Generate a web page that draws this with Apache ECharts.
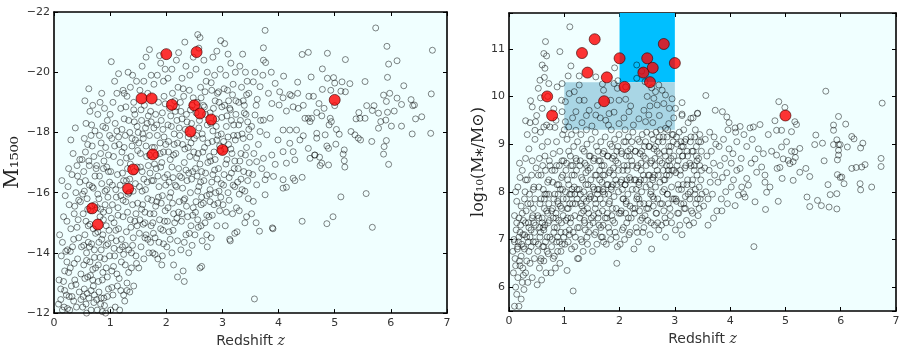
<!DOCTYPE html>
<html>
<head>
<meta charset="utf-8">
<script src="https://cdn.jsdelivr.net/npm/echarts@6/dist/echarts.min.js"></script>
<style>
html, body { margin: 0; padding: 0; background: #fff; }
#chart { width: 911px; height: 353px; }
</style>
</head>
<body>
<div id="chart"></div>
<script>
// ---- left panel: M1500 vs redshift ----
const leftBlobLow = [
[0.08,-12.3],[0.12,-12.8],[0.15,-12.1],[0.19,-13.4],[0.13,-13.9],[0.22,-12.6],[0.1,-14.6],[0.17,-15.2],[0.24,-14.1],[0.2,-15.9],[0.14,-16.4],[0.26,-16.8],[0.09,-13.1],[0.18,-12.2],[0.23,-13.7],
[0.28,-12.1],[0.31,-12.9],[0.35,-12.4],[0.29,-13.5],[0.33,-14.2],[0.37,-13.1],[0.4,-12.2],[0.42,-13.8],[0.3,-14.8],[0.36,-15.3],[0.44,-14.5],[0.39,-16.0],[0.27,-15.6],[0.47,-15.7],[0.32,-16.6],[0.41,-16.9],[0.45,-12.7],[0.48,-13.3],[0.34,-17.3],[0.3,-17.75],[0.46,-17.1],[0.38,-18.15],[0.25,-16.2],[0.43,-15.1],[0.49,-14.2],
[0.51,-12.2],[0.54,-12.8],[0.57,-12.3],[0.6,-13.2],[0.53,-13.6],[0.62,-12.5],[0.66,-12.1],[0.58,-14.0],[0.64,-13.7],[0.69,-13.1],[0.55,-14.6],[0.61,-14.9],[0.67,-14.3],[0.72,-12.6],[0.52,-15.3],[0.59,-15.8],[0.65,-15.4],[0.7,-14.8],[0.74,-13.5],[0.56,-16.4],[0.63,-16.9],[0.68,-16.2],[0.73,-15.6],[0.5,-17.1],[0.6,-17.6],[0.66,-17.9],[0.71,-17.2],[0.57,-18.3],[0.64,-18.7],[0.62,-19.45],[0.55,-19.05],[0.69,-18.9],[0.53,-16.7],[0.75,-16.8],[0.58,-12.0],[0.7,-12.9],[0.63,-14.2],[0.72,-14.1],[0.54,-17.8],
[0.77,-12.1],[0.8,-12.7],[0.83,-12.3],[0.86,-13.1],[0.79,-13.6],[0.89,-12.5],[0.92,-12.0],[0.84,-14.1],[0.9,-13.8],[0.95,-13.2],[0.78,-14.7],[0.82,-15.2],[0.87,-14.6],[0.93,-14.9],[0.97,-12.8],[0.8,-15.8],[0.85,-16.3],[0.91,-15.6],[0.96,-14.3],[0.99,-13.9],[0.76,-16.9],[0.83,-17.3],[0.88,-16.8],[0.94,-16.1],[0.98,-15.4],[0.81,-17.9],[0.87,-18.2],[0.92,-17.5],[0.97,-16.7],[0.78,-18.6],[0.9,-18.8],[0.95,-18.4],[0.85,-19.3],[0.99,-17.9],[0.82,-19.0],[0.77,-15.5],[0.88,-15.1],[0.93,-13.5],[0.84,-12.5]
];
const leftBlobMid = [
[1.01,-12.1],[1.05,-12.6],[1.09,-12.2],[1.13,-12.9],[1.17,-12.1],[1.03,-13.4],[1.08,-13.9],[1.12,-13.3],[1.2,-13.7],[1.24,-12.6],[1.02,-14.5],[1.07,-15.0],[1.11,-14.4],[1.15,-14.8],[1.22,-14.2],[1.04,-15.6],[1.1,-16.1],[1.14,-15.5],[1.19,-15.9],[1.23,-15.2],[1.01,-16.7],[1.06,-17.2],[1.13,-16.6],[1.18,-17.0],[1.24,-16.4],[1.03,-17.8],[1.09,-18.3],[1.16,-17.6],[1.21,-18.1],[1.05,-19.0],[1.12,-19.3],[1.19,-18.8],[1.08,-19.7],[1.02,-20.35],[1.15,-19.95],[1.23,-19.4],[1.0,-18.6],[1.17,-14.1],[1.25,-17.5],
[1.26,-12.4],[1.3,-13.0],[1.35,-12.7],[1.27,-13.6],[1.33,-14.1],[1.38,-13.5],[1.42,-12.9],[1.46,-13.9],[1.29,-14.7],[1.36,-15.1],[1.41,-14.5],[1.48,-14.9],[1.28,-15.7],[1.34,-16.0],[1.4,-15.6],[1.45,-16.3],[1.31,-16.8],[1.37,-17.2],[1.43,-16.7],[1.49,-17.4],[1.27,-17.9],[1.33,-18.4],[1.39,-17.8],[1.44,-18.6],[1.3,-19.2],[1.36,-19.5],[1.42,-19.0],[1.47,-19.7],[1.32,-20.0],[1.4,-19.9],[1.25,-19.3],[1.38,-14.0],[1.46,-15.3],[1.35,-18.0],[1.48,-18.2],[1.29,-16.4],
[1.51,-13.5],[1.55,-14.2],[1.6,-13.8],[1.64,-14.6],[1.69,-14.0],[1.73,-14.9],[1.53,-15.1],[1.58,-15.6],[1.62,-15.0],[1.67,-15.8],[1.71,-15.3],[1.52,-16.2],[1.57,-16.7],[1.63,-16.1],[1.68,-16.9],[1.74,-16.4],[1.54,-17.3],[1.59,-17.8],[1.65,-17.2],[1.7,-17.9],[1.56,-18.4],[1.61,-18.9],[1.66,-18.3],[1.72,-18.7],[1.53,-19.4],[1.6,-19.7],[1.67,-19.3],[1.73,-19.9],[1.57,-20.2],[1.64,-20.5],[1.7,-20.75],[1.75,-17.5],[1.5,-18.0],[1.62,-14.5],
[1.76,-14.0],[1.8,-14.5],[1.85,-13.8],[1.9,-14.8],[1.95,-14.3],[1.78,-15.3],[1.83,-15.7],[1.88,-15.1],[1.93,-15.9],[1.98,-15.4],[1.77,-16.4],[1.82,-16.8],[1.87,-16.2],[1.92,-17.0],[1.97,-16.5],[1.79,-17.5],[1.84,-17.9],[1.89,-17.3],[1.94,-18.1],[1.99,-17.6],[1.81,-18.6],[1.86,-19.0],[1.91,-18.4],[1.96,-19.2],[1.78,-19.6],[1.84,-19.9],[1.9,-20.3],[1.95,-19.7],[1.88,-20.55],[1.98,-20.1],[1.76,-15.0],[1.93,-13.9],[1.92,-13.6]
];
const leftBlobHigh = [
[2.01,-14.2],[2.05,-14.7],[2.1,-14.0],[2.15,-15.0],[2.2,-14.4],[2.03,-15.5],[2.08,-16.0],[2.13,-15.3],[2.18,-16.2],[2.23,-15.7],[2.02,-16.6],[2.07,-17.1],[2.12,-16.5],[2.17,-17.3],[2.22,-16.8],[2.04,-17.7],[2.09,-18.2],[2.14,-17.6],[2.19,-18.4],[2.24,-17.9],[2.06,-18.8],[2.11,-19.3],[2.16,-18.7],[2.21,-19.5],[2.03,-19.8],[2.1,-20.1],[2.18,-20.4],[2.22,-20.65],[2.2,-13.2],[2.13,-13.6],[2.25,-19.0],
[2.26,-14.1],[2.3,-13.4],[2.32,-13.05],[2.35,-14.6],[2.4,-14.0],[2.44,-14.9],[2.28,-15.3],[2.33,-15.8],[2.38,-15.2],[2.43,-16.0],[2.48,-15.5],[2.27,-16.5],[2.32,-17.0],[2.37,-16.4],[2.42,-17.2],[2.47,-16.7],[2.29,-17.6],[2.34,-18.1],[2.39,-17.5],[2.45,-18.3],[2.26,-18.7],[2.31,-19.2],[2.36,-18.6],[2.41,-19.4],[2.46,-18.9],[2.28,-19.8],[2.35,-20.2],[2.42,-19.9],[2.33,-21.0],[2.48,-20.5],[2.5,-17.8],
[2.51,-14.6],[2.56,-15.1],[2.6,-13.5],[2.64,-14.4],[2.69,-15.0],[2.73,-14.2],[2.53,-15.7],[2.58,-16.2],[2.62,-15.6],[2.67,-16.4],[2.72,-15.9],[2.52,-16.8],[2.57,-17.3],[2.63,-16.7],[2.68,-17.5],[2.74,-17.0],[2.54,-17.9],[2.59,-18.4],[2.65,-17.8],[2.7,-18.6],[2.55,-19.0],[2.61,-19.5],[2.66,-18.9],[2.71,-19.7],[2.53,-20.1],[2.58,-20.8],[2.56,-21.25],[2.6,-21.15],[2.67,-20.4],[2.73,-20.0],[2.62,-14.9],
[2.76,-15.2],[2.8,-14.5],[2.85,-15.6],[2.9,-14.9],[2.95,-15.4],[2.78,-16.1],[2.83,-16.6],[2.88,-16.0],[2.93,-16.8],[2.98,-16.3],[2.77,-17.2],[2.82,-17.7],[2.87,-17.1],[2.92,-17.9],[2.97,-17.4],[2.79,-18.3],[2.84,-18.8],[2.89,-18.2],[2.94,-19.0],[2.99,-18.5],[2.81,-19.4],[2.86,-19.9],[2.91,-19.3],[2.96,-20.1],[2.83,-20.5],[2.9,-20.7],[2.97,-21.05],[2.78,-15.7],[2.72,-14.6],
[3.01,-15.6],[3.05,-14.9],[3.1,-16.0],[3.14,-14.4],[3.18,-15.3],[3.22,-16.2],[3.03,-16.6],[3.08,-17.1],[3.12,-16.5],[3.17,-17.3],[3.21,-16.8],[3.02,-17.7],[3.07,-18.2],[3.11,-17.6],[3.16,-18.4],[3.2,-17.9],[3.24,-18.6],[3.04,-18.9],[3.09,-19.4],[3.13,-18.8],[3.19,-19.6],[3.06,-19.9],[3.15,-20.3],[3.23,-20.0],[3.1,-20.6],[3.04,-20.95],[3.25,-15.5],[3.22,-14.65],
[3.26,-14.7],[3.3,-15.4],[3.35,-16.1],[3.4,-15.0],[3.45,-16.4],[3.28,-16.8],[3.33,-17.3],[3.38,-16.7],[3.43,-17.5],[3.48,-17.0],[3.27,-17.9],[3.32,-18.4],[3.37,-17.8],[3.42,-18.6],[3.47,-18.1],[3.29,-19.0],[3.34,-19.5],[3.39,-18.9],[3.44,-19.7],[3.31,-20.2],[3.41,-20.0],[3.36,-20.6],[3.47,-19.3],[3.46,-15.8],[3.43,-15.2]
];
const leftFill = [
[0.12,-12.45],[0.17,-13.05],[0.21,-14.05],[0.15,-14.35],[0.26,-13.35],[0.23,-15.05],[0.19,-12.75],[0.27,-12.55],[0.29,-14.05],[0.24,-12.15],
[0.32,-12.55],[0.36,-13.65],[0.41,-14.85],[0.46,-16.35],[0.39,-12.95],[0.44,-15.75],[0.35,-14.45],[0.48,-12.45],[0.42,-16.55],[0.37,-15.55],
[0.52,-12.55],[0.55,-13.15],[0.58,-13.75],[0.61,-14.35],[0.64,-14.95],[0.67,-15.55],[0.7,-16.15],[0.73,-16.55],[0.53,-14.25],[0.57,-15.05],[0.6,-15.45],[0.63,-16.25],[0.66,-12.75],[0.69,-13.45],[0.72,-13.85],[0.74,-14.65],[0.51,-15.95],[0.56,-17.35],[0.62,-17.05],[0.68,-17.55],[0.71,-12.35],[0.65,-13.25],[0.59,-12.65],[0.54,-16.05],[0.67,-18.25],[0.73,-18.05],
[0.76,-12.45],[0.79,-13.05],[0.82,-13.85],[0.85,-14.45],[0.88,-15.35],[0.91,-16.05],[0.94,-16.85],[0.97,-17.25],[0.78,-15.95],[0.81,-16.55],[0.84,-17.65],[0.87,-13.35],[0.9,-12.25],[0.93,-14.25],[0.96,-15.85],[0.99,-16.35],[0.8,-14.35],[0.83,-15.45],[0.86,-12.05],[0.89,-17.05],[0.92,-18.15],[0.95,-12.55],[0.98,-14.75],
[1.03,-12.85],[1.06,-13.55],[1.1,-14.75],[1.14,-15.25],[1.18,-16.25],[1.21,-17.35],[1.25,-18.45],[1.04,-16.25],[1.08,-17.55],[1.12,-18.05],[1.16,-13.15],[1.2,-14.45],[1.23,-15.75],[1.07,-14.15],[1.11,-15.85],[1.15,-17.85],[1.19,-12.75],[1.22,-16.65],[1.02,-15.15],[1.24,-13.95],
[1.27,-14.25],[1.31,-15.35],[1.35,-16.45],[1.39,-17.55],[1.43,-18.35],[1.47,-13.65],[1.29,-17.15],[1.33,-13.35],[1.37,-14.85],[1.41,-16.05],[1.45,-17.75],[1.49,-15.65],[1.28,-18.85],[1.32,-15.95],[1.36,-16.95],[1.4,-14.25],[1.44,-15.05],[1.48,-16.85],[1.3,-12.75],[1.42,-18.75],
[1.52,-14.65],[1.56,-15.45],[1.6,-16.45],[1.64,-17.55],[1.68,-18.55],[1.72,-14.35],[1.54,-16.85],[1.58,-17.95],[1.62,-15.35],[1.66,-16.35],[1.7,-17.25],[1.74,-15.75],[1.51,-17.65],[1.55,-18.75],[1.59,-14.95],[1.63,-18.15],[1.67,-14.45],[1.71,-16.65],[1.73,-18.35],[1.57,-16.05],
[1.77,-14.65],[1.81,-15.55],[1.85,-16.55],[1.89,-17.65],[1.93,-18.65],[1.97,-15.05],[1.79,-16.95],[1.83,-18.25],[1.87,-14.35],[1.91,-15.65],[1.95,-17.35],[1.99,-16.25],[1.78,-18.15],[1.82,-17.25],[1.86,-15.85],[1.9,-16.85],[1.94,-14.75],[1.98,-18.95],[1.8,-13.95],[1.96,-17.85],
[2.02,-15.05],[2.06,-15.85],[2.1,-16.85],[2.14,-17.95],[2.18,-18.85],[2.22,-15.35],[2.04,-17.35],[2.08,-18.55],[2.12,-14.75],[2.16,-16.25],[2.2,-17.65],[2.24,-16.55],[2.03,-18.25],[2.07,-14.45],[2.11,-15.65],[2.15,-19.05],[2.19,-15.15],[2.23,-18.15],[2.05,-16.35],[2.13,-17.25],
[2.27,-15.05],[2.31,-15.75],[2.35,-16.75],[2.39,-17.85],[2.43,-18.75],[2.47,-15.25],[2.29,-16.15],[2.33,-17.45],[2.37,-18.35],[2.41,-14.65],[2.45,-16.45],[2.49,-17.35],[2.28,-18.45],[2.32,-14.35],[2.36,-15.55],[2.4,-16.65],[2.44,-17.65],[2.48,-19.15],[2.3,-19.45],[2.46,-14.25],
[2.52,-15.35],[2.56,-16.05],[2.6,-16.95],[2.64,-17.95],[2.68,-18.85],[2.72,-15.25],[2.54,-17.15],[2.58,-18.15],[2.62,-19.15],[2.66,-15.65],[2.7,-16.65],[2.74,-17.65],[2.53,-18.65],[2.57,-14.85],[2.61,-16.35],[2.65,-17.35],[2.69,-19.35],[2.73,-18.25],[2.55,-16.55],[2.63,-15.85],
[2.77,-15.95],[2.81,-16.35],[2.85,-17.35],[2.89,-18.45],[2.93,-19.35],[2.97,-15.85],[2.79,-17.05],[2.83,-18.05],[2.87,-19.05],[2.91,-16.45],[2.95,-17.55],[2.99,-18.85],[2.78,-18.65],[2.82,-15.25],[2.86,-16.75],[2.9,-17.75],[2.94,-16.05],[2.98,-17.95],[2.8,-19.65],[2.92,-15.65],
[3.02,-16.25],[3.06,-16.95],[3.1,-17.85],[3.14,-18.75],[3.18,-19.25],[3.22,-17.05],[3.04,-17.45],[3.08,-18.55],[3.12,-15.75],[3.16,-16.65],[3.2,-18.25],[3.24,-19.05],[3.03,-19.45],[3.07,-15.35],[3.11,-19.05],[3.15,-17.45],[3.19,-16.25],[3.23,-17.75],
[3.27,-16.35],[3.31,-17.05],[3.35,-17.95],[3.39,-18.65],[3.43,-19.25],[3.47,-16.65],[3.29,-18.25],[3.33,-16.45],[3.37,-19.05],[3.41,-17.25],[3.45,-18.35],[3.49,-17.85],[3.3,-15.95],[3.4,-16.05]
];
const leftTail = [
[3.76,-21.39],[5.73,-21.47],[6.74,-20.73],[5.93,-20.86],[3.73,-20.81],[4.42,-20.59],[4.53,-20.66],[4.87,-20.63],[5.19,-20.42],[5.96,-20.27],[6.11,-20.38],[4.78,-20.11],[3.73,-20.4],[3.77,-20.32],[3.87,-20.0],[4.09,-19.87],[4.58,-19.84],[4.87,-19.8],[4.98,-19.82],[4.34,-19.67],[5.94,-19.83],[5.54,-19.69],[5.0,-19.64],[5.13,-19.68],[5.27,-19.62],[6.23,-19.55],[4.78,-19.43],[4.93,-19.4],[5.11,-19.37],[5.19,-19.35],[6.72,-19.28],[5.87,-19.24],[5.98,-19.3],[4.54,-19.2],[4.62,-19.2],[4.34,-19.3],[4.23,-19.22],[4.08,-19.15],[6.11,-19.14],[6.36,-19.09],[5.92,-19.03],[6.19,-18.93],[6.39,-18.89],[6.42,-18.91],[5.57,-18.89],[5.7,-18.89],[4.72,-18.96],[4.81,-18.8],[5.0,-18.89],[4.44,-18.9],[4.35,-18.8],[6.06,-18.71],[5.94,-18.67],[5.67,-18.73],[5.78,-18.64],[5.43,-18.66],[5.38,-18.45],[5.45,-18.47],[5.54,-18.47],[6.44,-18.45],[6.55,-18.52],[4.68,-18.66],[4.77,-18.55],[4.92,-18.47],[4.9,-18.25],[4.94,-18.36],[4.59,-18.47],[4.53,-18.47],[5.91,-18.41],[5.82,-18.36],[6.01,-18.21],[6.19,-18.21],[5.78,-18.14],[5.29,-18.03],[5.36,-17.92],[5.42,-17.81],[5.46,-17.75],[5.03,-18.1],[5.08,-17.94],[6.38,-17.95],[6.71,-17.97],[4.68,-17.97],[4.83,-17.92],[5.66,-17.7],[5.92,-17.73],[5.88,-17.53],[5.87,-17.28],[5.96,-16.94],[5.02,-17.61],[5.17,-17.42],[5.15,-17.28],[5.17,-17.06],[5.18,-16.85],[4.89,-16.92],[4.74,-16.9],[4.77,-16.98],[4.56,-17.14],[4.64,-17.25],[4.73,-17.18],[4.89,-17.47],[4.86,-17.55],[4.42,-16.51],[4.29,-16.4],[4.14,-16.18],[4.08,-16.15],[3.76,-15.93],[5.11,-15.86],[5.56,-15.97],[4.42,-15.05],[4.86,-14.97],[4.97,-15.2],[5.67,-14.85],[3.89,-14.83],[3.66,-14.72],[3.57,-12.47],
[3.55,-19.68],[3.67,-19.52],[3.82,-19.3],[3.94,-19.63],[4.02,-19.35],[4.2,-19.26],[3.88,-18.96],[4.01,-18.91],[4.14,-18.71],[4.26,-18.85],[3.58,-18.58],[3.73,-18.41],[3.85,-18.47],[4.08,-18.08],[4.2,-18.08],[4.32,-18.08],[4.47,-18.47],[4.56,-18.36],[3.67,-18.03],[3.79,-17.92],[3.99,-17.75],[4.2,-17.64],[4.38,-17.75],[4.44,-17.89],[4.53,-17.47],[4.68,-17.81],[4.26,-17.36],[4.08,-17.36],[3.88,-17.25],[3.73,-17.14],[3.61,-17.03],[3.94,-16.94],[4.14,-16.98],[4.29,-17.09],[3.79,-16.59],[3.91,-16.54],[4.08,-16.43],[4.26,-16.48],[3.61,-16.26],[3.76,-16.43],[3.55,-15.71],[4.65,-17.25],
[3.52,-18.2],[3.6,-18.9],[3.64,-17.6],[3.7,-16.8],[3.56,-17.3],[3.62,-19.1],[3.68,-18.4],[3.54,-16.6],[3.58,-20.0],[3.72,-19.9],[3.52,-15.3],[3.6,-15.0],[3.13,-14.45],[3.9,-14.8],[2.63,-13.55]
];
const leftRed = [[2.0,-20.6],[2.54,-20.67],[1.56,-19.13],[1.74,-19.13],[2.1,-18.92],[2.5,-18.9],[2.6,-18.63],[2.8,-18.43],[2.43,-18.03],[3.0,-17.42],[1.76,-17.27],[1.41,-16.77],[1.32,-16.13],[0.68,-15.48],[0.78,-14.94],[5.0,-19.08]];

// ---- right panel: stellar mass vs redshift ----
const rightBlobLow = [
[0.1,5.6],[0.14,5.85],[0.18,5.6],[0.22,5.75],[0.12,6.0],[0.08,6.3],[0.16,6.2],[0.2,6.45],[0.24,6.1],[0.11,6.6],[0.15,6.8],[0.19,6.55],[0.23,6.9],[0.09,7.0],[0.13,7.2],[0.17,6.95],[0.21,7.3],[0.25,7.1],[0.1,7.5],[0.14,7.8],[0.18,7.45],[0.22,7.7],[0.12,8.0],[0.2,8.3],[0.16,8.1],[0.24,8.45],[0.19,8.6],[0.07,6.75],[0.25,6.4],
[0.27,5.95],[0.3,6.3],[0.34,6.1],[0.38,6.5],[0.42,6.2],[0.46,6.6],[0.28,6.8],[0.32,7.05],[0.36,6.75],[0.4,7.2],[0.44,6.95],[0.48,7.3],[0.26,7.4],[0.31,7.6],[0.35,7.35],[0.39,7.75],[0.43,7.5],[0.47,7.85],[0.29,8.0],[0.33,8.25],[0.37,7.95],[0.41,8.35],[0.45,8.1],[0.49,8.5],[0.3,8.7],[0.36,8.9],[0.42,8.65],[0.47,9.1],[0.38,9.45],[0.33,9.2],[0.44,7.65],[0.28,7.1],
[0.51,6.05],[0.55,6.4],[0.59,6.15],[0.63,6.55],[0.67,6.3],[0.71,6.7],[0.53,6.9],[0.57,7.15],[0.61,6.85],[0.65,7.3],[0.69,7.05],[0.73,7.4],[0.52,7.5],[0.56,7.75],[0.6,7.45],[0.64,7.85],[0.68,7.6],[0.72,7.95],[0.54,8.1],[0.58,8.35],[0.62,8.05],[0.66,8.45],[0.7,8.2],[0.74,8.55],[0.55,8.7],[0.6,8.95],[0.65,8.75],[0.7,9.05],[0.57,9.25],[0.68,9.4],[0.63,7.2],[0.58,6.6],[0.72,7.75],
[0.76,6.3],[0.8,6.6],[0.84,6.4],[0.88,6.75],[0.92,6.5],[0.96,6.9],[0.78,7.0],[0.82,7.25],[0.86,6.95],[0.9,7.4],[0.94,7.15],[0.98,7.5],[0.77,7.6],[0.81,7.85],[0.85,7.55],[0.89,7.95],[0.93,7.7],[0.97,8.05],[0.79,8.2],[0.83,8.45],[0.87,8.15],[0.91,8.55],[0.95,8.3],[0.99,8.65],[0.8,8.8],[0.86,9.05],[0.92,8.85],[0.97,9.2],[0.83,9.35],[0.95,7.35],[0.88,7.8]
];
const rightBlobMid = [
[1.01,6.9],[1.05,6.35],[1.09,7.1],[1.13,6.8],[1.16,5.92],[1.2,7.05],[1.24,6.6],[1.03,7.4],[1.07,7.65],[1.11,7.35],[1.15,7.75],[1.19,7.5],[1.23,7.85],[1.02,8.0],[1.06,8.25],[1.1,7.95],[1.14,8.35],[1.18,8.1],[1.22,8.45],[1.04,8.6],[1.08,8.85],[1.12,8.55],[1.17,8.95],[1.21,8.7],[1.05,9.1],[1.13,9.2],[1.24,9.05],[1.0,9.3],[1.09,7.2],[1.19,7.95],
[1.26,6.6],[1.3,7.0],[1.34,6.75],[1.38,7.2],[1.42,6.9],[1.46,7.3],[1.28,7.45],[1.32,7.7],[1.36,7.4],[1.4,7.8],[1.44,7.55],[1.48,7.9],[1.27,8.05],[1.31,8.3],[1.35,8.0],[1.39,8.4],[1.43,8.15],[1.47,8.5],[1.29,8.65],[1.33,8.9],[1.37,8.6],[1.41,9.0],[1.45,8.75],[1.49,9.1],[1.3,9.2],[1.4,9.3],[1.35,7.6],[1.46,7.95],
[1.51,6.75],[1.55,7.1],[1.59,6.9],[1.63,7.3],[1.67,7.05],[1.71,6.95],[1.53,7.5],[1.57,7.75],[1.61,7.45],[1.65,7.85],[1.69,7.6],[1.73,7.95],[1.52,8.1],[1.56,8.35],[1.6,8.05],[1.64,8.45],[1.68,8.2],[1.72,8.55],[1.54,8.7],[1.58,8.95],[1.62,8.65],[1.66,9.05],[1.7,8.8],[1.74,9.15],[1.56,9.25],[1.7,7.3],[1.7,8.0],[1.7,8.35],[1.7,7.75],
[1.76,6.9],[1.8,7.25],[1.84,7.0],[1.88,7.4],[1.92,7.15],[1.95,6.5],[1.78,7.55],[1.82,7.8],[1.86,7.5],[1.9,7.9],[1.94,7.65],[1.98,8.0],[1.77,8.15],[1.81,8.4],[1.85,8.1],[1.89,8.5],[1.93,8.25],[1.97,8.6],[1.79,8.75],[1.83,9.0],[1.87,8.7],[1.91,9.1],[1.95,8.85],[1.99,9.2],[1.85,9.3],[1.96,6.85]
];
const rightBlobHigh = [
[2.01,6.9],[2.05,7.2],[2.09,7.0],[2.13,7.35],[2.17,7.1],[2.21,7.45],[2.03,7.6],[2.07,7.85],[2.11,7.55],[2.15,7.95],[2.19,7.7],[2.23,8.05],[2.02,8.2],[2.06,8.45],[2.1,8.15],[2.14,8.55],[2.18,8.3],[2.22,8.65],[2.04,8.8],[2.08,9.05],[2.12,8.75],[2.16,9.15],[2.2,8.9],[2.24,9.25],[2.1,9.3],[2.12,7.8],
[2.26,6.8],[2.3,7.25],[2.34,6.95],[2.38,7.4],[2.42,7.15],[2.46,7.5],[2.28,7.65],[2.32,7.9],[2.36,7.6],[2.4,8.0],[2.44,7.75],[2.48,8.1],[2.27,8.25],[2.31,8.5],[2.35,8.2],[2.39,8.6],[2.43,8.35],[2.47,8.7],[2.29,8.85],[2.33,9.1],[2.37,8.8],[2.41,9.2],[2.45,8.95],[2.49,9.25],[2.35,7.85],
[2.51,7.4],[2.55,7.1],[2.58,6.8],[2.63,7.3],[2.67,7.55],[2.71,7.2],[2.53,7.75],[2.57,8.0],[2.61,7.7],[2.65,8.1],[2.69,7.85],[2.73,8.2],[2.52,8.35],[2.56,8.6],[2.6,8.3],[2.64,8.7],[2.68,8.45],[2.72,8.8],[2.54,8.95],[2.58,9.2],[2.62,8.9],[2.66,9.25],[2.7,9.05],[2.74,9.3],[2.6,7.9],
[2.76,7.3],[2.8,7.6],[2.84,7.35],[2.88,7.75],[2.92,7.5],[2.96,7.85],[2.78,8.0],[2.82,8.25],[2.86,7.95],[2.9,8.35],[2.94,8.1],[2.98,8.45],[2.77,8.6],[2.81,8.85],[2.85,8.55],[2.89,8.95],[2.93,8.7],[2.97,9.05],[2.79,9.15],[2.87,9.3],[2.95,9.2],[2.83,7.05],[2.91,8.55],
[3.01,7.2],[3.05,7.55],[3.09,7.3],[3.13,7.1],[3.17,7.65],[3.21,7.4],[3.03,7.8],[3.07,8.05],[3.11,7.75],[3.15,8.15],[3.19,7.9],[3.23,8.25],[3.02,8.4],[3.06,8.65],[3.1,8.35],[3.14,8.75],[3.18,8.5],[3.22,8.85],[3.04,9.0],[3.08,9.25],[3.12,8.95],[3.16,9.3],[3.2,9.1],[3.24,9.45],[3.13,9.6],
[3.26,7.3],[3.3,7.6],[3.34,7.35],[3.38,7.75],[3.42,7.5],[3.46,7.85],[3.28,8.0],[3.32,8.25],[3.36,7.95],[3.4,8.35],[3.44,8.1],[3.48,8.45],[3.27,8.6],[3.31,8.85],[3.35,8.55],[3.39,8.95],[3.43,8.7],[3.47,9.05],[3.29,9.15],[3.37,9.3],[3.45,9.2],[3.33,9.55],[3.41,9.65],
[3.52,7.7],[3.56,8.0],[3.6,7.85],[3.64,8.2],[3.68,7.95],[3.72,8.35],[3.54,8.5],[3.58,8.75],[3.62,8.45],[3.66,8.85],[3.7,8.6],[3.74,9.0],[3.55,9.1],[3.63,9.25],[3.71,9.15],[3.78,8.2],[3.82,8.55],[3.86,8.3],[3.9,8.7],[3.94,8.4],[3.98,8.9],[3.8,8.95],[3.88,9.1],[3.96,9.3],[4.02,8.6],[4.06,8.25],[3.76,7.6],[3.84,7.85],[3.92,8.0],[3.6,7.3],[3.7,7.45]
];
const rightFill = [
[0.12,6.45],[0.16,6.85],[0.2,7.15],[0.24,7.55],[0.14,7.35],[0.18,7.05],[0.22,6.65],[0.26,6.85],[0.3,7.35],[0.34,7.75],[0.38,7.05],[0.42,7.45],[0.46,7.15],[0.28,7.85],[0.32,6.55],[0.36,7.25],[0.4,6.85],[0.44,8.05],[0.48,6.95],[0.3,8.25],[0.35,6.95],[0.45,7.35],[0.1,6.95],[0.26,6.25],
[0.52,6.75],[0.56,7.05],[0.6,7.35],[0.64,7.65],[0.68,7.95],[0.72,8.25],[0.54,7.45],[0.58,7.85],[0.62,7.25],[0.66,6.95],[0.7,7.55],[0.74,7.05],[0.53,8.35],[0.57,6.55],[0.61,8.55],[0.65,7.95],[0.69,6.75],[0.73,8.65],[0.55,7.25],[0.63,6.85],[0.71,7.35],
[0.77,6.85],[0.81,7.15],[0.85,7.45],[0.89,7.75],[0.93,8.05],[0.97,8.35],[0.79,7.65],[0.83,7.95],[0.87,7.25],[0.91,6.95],[0.95,7.65],[0.99,7.05],[0.78,8.45],[0.82,6.65],[0.86,8.55],[0.9,8.15],[0.94,6.75],[0.98,7.85],[0.8,7.45],[0.88,7.05],[0.96,8.65],
[1.02,7.15],[1.06,7.45],[1.1,7.75],[1.14,8.05],[1.18,8.35],[1.22,8.65],[1.04,7.85],[1.08,8.15],[1.12,7.45],[1.16,7.15],[1.2,7.75],[1.24,7.25],[1.03,8.45],[1.07,6.95],[1.11,8.75],[1.15,8.55],[1.19,6.85],[1.23,8.05],[1.05,7.65],[1.13,7.95],
[1.27,7.25],[1.31,7.55],[1.35,7.85],[1.39,8.15],[1.43,8.45],[1.47,8.75],[1.29,7.95],[1.33,8.25],[1.37,7.35],[1.41,7.05],[1.45,7.85],[1.49,7.45],[1.28,8.55],[1.32,6.95],[1.36,8.85],[1.4,8.55],[1.44,7.15],[1.48,8.25],[1.3,7.75],[1.42,7.65],
[1.52,7.35],[1.56,7.65],[1.6,7.95],[1.64,8.25],[1.68,8.55],[1.72,8.85],[1.54,8.05],[1.58,8.35],[1.62,7.55],[1.66,7.25],[1.7,8.05],[1.74,7.45],[1.53,8.65],[1.57,7.15],[1.61,8.85],[1.65,8.65],[1.69,7.05],[1.73,8.35],[1.55,7.85],[1.63,8.05],
[1.77,7.45],[1.81,7.75],[1.85,8.05],[1.89,8.35],[1.93,8.65],[1.97,8.95],[1.79,8.15],[1.83,8.45],[1.87,7.65],[1.91,7.35],[1.95,8.15],[1.99,7.55],[1.78,8.75],[1.82,7.15],[1.86,8.95],[1.9,8.75],[1.94,7.05],[1.98,8.45],[1.8,7.95],[1.88,8.15],
[2.02,7.55],[2.06,7.85],[2.1,8.15],[2.14,8.45],[2.18,8.75],[2.22,9.05],[2.04,8.25],[2.08,8.55],[2.12,7.75],[2.16,7.45],[2.2,8.25],[2.24,7.65],[2.03,8.85],[2.07,7.25],[2.11,9.05],[2.15,8.85],[2.19,7.15],[2.23,8.55],[2.05,8.05],[2.13,8.25],
[2.27,7.55],[2.31,7.85],[2.35,8.15],[2.39,8.45],[2.43,8.75],[2.47,9.05],[2.29,8.25],[2.33,8.55],[2.37,7.75],[2.41,7.45],[2.45,8.25],[2.49,7.65],[2.28,8.85],[2.32,7.15],[2.36,9.05],[2.4,8.85],[2.44,7.25],[2.48,8.55],[2.3,8.05],[2.38,8.25],
[2.52,7.65],[2.56,7.95],[2.6,8.25],[2.64,8.55],[2.68,8.85],[2.72,9.15],[2.54,8.35],[2.58,8.65],[2.62,7.85],[2.66,7.55],[2.7,8.35],[2.74,7.75],[2.53,8.95],[2.57,7.35],[2.61,9.1],[2.65,8.95],[2.69,7.35],[2.73,8.65],[2.55,8.15],[2.63,8.35],
[2.77,7.75],[2.81,8.05],[2.85,8.35],[2.89,8.65],[2.93,8.95],[2.97,9.2],[2.79,8.45],[2.83,8.75],[2.87,7.95],[2.91,7.65],[2.95,8.45],[2.99,7.85],[2.78,9.05],[2.82,7.45],[2.86,9.15],[2.9,8.85],[2.94,7.35],[2.98,8.75],[2.8,8.25],[2.88,8.45],
[3.02,7.85],[3.06,8.15],[3.1,8.45],[3.14,8.75],[3.18,9.05],[3.22,8.15],[3.04,8.55],[3.08,8.85],[3.12,8.05],[3.16,7.75],[3.2,8.55],[3.24,7.95],[3.03,9.15],[3.07,7.55],[3.11,9.05],[3.15,8.95],[3.19,7.65],[3.23,8.75],
[3.27,7.85],[3.31,8.15],[3.35,8.45],[3.39,8.75],[3.43,9.05],[3.47,8.25],[3.29,8.55],[3.33,8.85],[3.37,8.05],[3.41,7.85],[3.45,8.55],[3.49,7.95],[3.28,9.05],[3.32,7.55],[3.36,9.15],[3.4,8.65],[3.44,7.65],[3.48,8.85]
];
const rightUpper = [
[1.1,11.46],[0.66,11.15],[0.63,10.9],[0.68,10.85],[0.92,10.94],[0.6,10.66],[0.65,10.59],[0.64,10.4],[0.56,10.34],[0.72,10.27],[0.53,10.17],[1.12,10.64],[1.07,10.43],[1.27,10.43],[1.27,10.24],[0.96,10.27],[0.87,10.2],[0.39,9.91],[0.42,9.78],[0.3,9.49],[0.48,9.47],[0.47,9.29],[0.63,9.36],[0.74,9.36],[0.95,9.92],[0.81,9.74],[0.6,9.75],[0.57,9.97],[1.91,10.6],[1.97,10.33],[1.9,10.27],[1.57,10.41],[1.69,10.26],[1.71,10.13],[2.31,10.66],[2.4,10.53],[2.31,10.38],[2.46,10.31],[2.71,10.24],[2.77,10.13],[2.83,10.03],[2.65,10.1],[2.62,9.96],[2.68,9.82],[2.8,9.85],[3.13,9.87],[3.01,9.75],[2.98,9.55],[2.89,9.43],[2.83,9.33],[3.13,9.63],[3.29,9.54],[3.41,9.64],[2.44,9.71],[2.53,9.61],[2.47,9.47],[2.35,9.53],[2.17,9.68],[2.08,9.55],[1.99,9.43],[1.81,9.64],[1.9,9.67],[1.75,9.5],[1.57,9.61],[1.6,9.81],[1.45,9.71],[1.27,9.92],[1.36,9.92],[1.21,9.68],[1.09,10.06],[1.02,9.89],[0.96,9.68],[1.08,9.36],[1.21,9.29],[1.02,9.47],[1.99,9.92],[2.11,9.94],[1.84,9.92],[2.11,10.2],[1.96,10.17],
[1.15,9.55],[1.32,9.45],[1.5,9.38],[1.65,9.55],[2.25,9.4],[2.6,9.45],[2.72,9.6],[2.9,9.75],[2.55,9.8],[1.4,9.6],[2.2,9.8],[1.8,9.4],[2.95,9.95],[0.85,9.5],[0.5,9.6],[2.5,10.0],[2.58,10.18],[0.7,10.0],[1.18,10.1]
];
const rightTail = [
[3.56,10.02],[5.73,10.11],[6.75,9.86],[4.88,9.89],[4.99,9.77],[5.17,9.47],[5.2,9.41],[4.81,9.49],[5.96,9.58],[5.87,9.4],[5.87,9.29],[6.09,9.42],[6.2,9.16],[6.24,9.11],[6.4,9.02],[6.36,8.92],[5.55,9.19],[5.53,8.99],[5.67,9.02],[5.93,9.09],[5.96,8.99],[5.87,8.99],[5.99,8.99],[6.12,8.94],[5.96,8.87],[5.96,8.77],[5.94,8.67],[5.7,8.65],[6.73,8.7],[6.73,8.53],[6.2,8.49],[6.28,8.51],[6.38,8.52],[6.44,8.57],[5.94,8.36],[6.02,8.31],[6.06,8.17],[5.99,8.3],[5.77,8.15],[6.35,8.17],[6.36,8.04],[6.56,8.1],[5.81,7.94],[5.93,7.96],[5.39,7.89],[5.58,7.82],[5.44,7.69],[5.65,7.71],[5.79,7.68],[5.93,7.64],[5.11,9.26],[5.17,8.84],[5.18,8.72],[5.14,8.63],[5.26,8.91],[5.02,9.05],[5.08,8.59],[4.93,8.94],[4.84,8.77],[4.75,8.85],[4.85,8.49],[4.9,8.51],[4.94,8.28],[5.14,8.24],[5.26,8.41],[5.37,8.49],[5.44,8.32],[4.72,8.1],[4.66,7.99],[4.63,8.2],[4.45,7.79],[4.64,7.63],[4.87,7.8],[4.09,7.71],[4.27,7.89],[4.15,7.93],[4.43,6.85],[4.54,9.41],[4.42,9.36],[4.36,9.34],[4.69,9.2],[4.84,9.29],[4.93,9.29],[5.11,8.85],[5.05,8.66],[4.96,8.69],[4.51,8.9],[4.6,8.8],[4.45,8.69],[4.57,8.52],[4.48,8.41],[4.63,8.35],[4.3,8.28],[4.18,8.49],[4.33,8.14],[4.21,8.1],[4.24,7.96],[3.73,9.71],[3.86,9.68],[3.94,9.57],[4.09,9.34],[4.18,9.37],[4.25,9.2],[4.12,9.05],[4.3,8.95],[4.05,8.8],[4.2,8.7],[4.38,8.6],[4.1,9.25],[3.98,9.45],[4.4,9.1],[4.02,8.1],[3.95,7.75],[3.85,7.6],[4.12,8.45]
];
const rightRed = [[1.55,11.2],[2.8,11.1],[1.32,10.91],[2.0,10.8],[2.5,10.8],[3.0,10.7],[2.6,10.6],[1.42,10.5],[2.43,10.5],[1.77,10.4],[2.55,10.3],[2.09,10.2],[0.69,10.0],[1.72,9.9],[0.78,9.6],[5.0,9.6]];

// selection boxes in the mass panel: [zMin, zMax, massMin, massMax]
const brightBox = [2, 3, 10.3, 11.75];
const paleBox = [1, 3, 9.3, 10.3];

const zTicks = [0, 7, 1];

const chart = echarts.init(document.getElementById('chart'));

const labelFont = { fontFamily: 'DejaVu Sans', fontSize: 11, color: '#333' };
const minus = (v) => String(v).replace('-', '\u2212');

function xAx(grid, top) {
  return {
    type: 'value', gridIndex: grid, position: top ? 'top' : 'bottom',
    min: zTicks[0], max: zTicks[1], interval: zTicks[2],
    axisLine: { onZero: false, lineStyle: { color: '#000', width: 1.6 } },
    axisTick: { inside: true, length: 4, lineStyle: { color: '#000' } },
    axisLabel: top ? { show: false } : Object.assign({ margin: 5 }, labelFont),
    splitLine: { show: false },
    name: top ? '' : 'Redshift {i|z}',
    nameLocation: 'middle', nameGap: 17,
    nameTextStyle: {
      fontFamily: 'DejaVu Sans', fontSize: 14, color: '#333',
      rich: { i: { fontFamily: 'DejaVu Serif', fontStyle: 'italic', fontSize: 14, color: '#333' } }
    }
  };
}
function yAx(grid, right, opts) {
  return Object.assign({
    type: 'value', gridIndex: grid, position: right ? 'right' : 'left',
    axisLine: { onZero: false, lineStyle: { color: '#000', width: 1.6 } },
    axisTick: { inside: true, length: 4, lineStyle: { color: '#000' } },
    splitLine: { show: false },
    nameLocation: 'middle', nameRotate: 90
  }, opts, right ? { axisLabel: { show: false }, name: '' } : {});
}

const leftY = {
  min: -22, max: -12, interval: 2, inverse: true,
  axisLabel: Object.assign({ margin: 4, formatter: minus }, labelFont),
  name: 'M\u2081\u2085\u2080\u2080', nameGap: 26,
  nameTextStyle: { fontFamily: 'DejaVu Serif', fontSize: 20, color: '#222' }
};
const rightY = {
  min: 5.5, max: 11.75,
  axisLabel: Object.assign({ margin: 4, formatter: (v) => (Number.isInteger(v) ? String(v) : '') }, labelFont),
  name: 'log\u2081\u2080(M\u204e/M\u2299)', nameGap: 22,
  nameTextStyle: { fontFamily: 'DejaVu Serif', fontSize: 16, color: '#222' }
};

const grayStyle = { color: 'rgba(255,255,255,0)', borderColor: 'rgba(0,0,0,0.6)', borderWidth: 1 };
const redStyle = { color: '#ff0000', borderColor: '#3a0000', borderWidth: 0.8 };

chart.setOption({
  animation: false,
  grid: [
    { left: 54, top: 12, width: 393, height: 302, show: true, backgroundColor: '#f0ffff', borderWidth: 0 },
    { left: 509, top: 13, width: 387, height: 298, show: true, backgroundColor: '#f0ffff', borderWidth: 0 }
  ],
  xAxis: [xAx(0, false), xAx(0, true), xAx(1, false), xAx(1, true)],
  yAxis: [yAx(0, false, leftY), yAx(0, true, leftY), yAx(1, false, rightY), yAx(1, true, rightY)],
  series: [
    {
      type: 'scatter', xAxisIndex: 0, yAxisIndex: 0, symbolSize: 6, z: 3, silent: true,
      itemStyle: grayStyle,
      data: leftBlobLow.concat(leftBlobMid, leftBlobHigh, leftFill, leftTail)
    },
    {
      type: 'scatter', xAxisIndex: 0, yAxisIndex: 0, symbolSize: 11, z: 5, silent: true,
      itemStyle: redStyle, data: leftRed
    },
    {
      type: 'scatter', xAxisIndex: 2, yAxisIndex: 2, z: 1, silent: true, data: [],
      markArea: {
        silent: true,
        itemStyle: { opacity: 1 },
        data: [
          [{ coord: [brightBox[0], brightBox[2]], itemStyle: { color: '#00bfff', opacity: 1 } }, { coord: [brightBox[1], brightBox[3]] }],
          [{ coord: [paleBox[0], paleBox[2]], itemStyle: { color: '#a9d6e5', opacity: 1 } }, { coord: [paleBox[1], paleBox[3]] }]
        ]
      }
    },
    {
      type: 'scatter', xAxisIndex: 2, yAxisIndex: 2, symbolSize: 6, z: 3, silent: true,
      itemStyle: grayStyle,
      data: rightBlobLow.concat(rightBlobMid, rightBlobHigh, rightFill, rightUpper, rightTail)
    },
    {
      type: 'scatter', xAxisIndex: 2, yAxisIndex: 2, symbolSize: 11, z: 5, silent: true,
      itemStyle: redStyle, data: rightRed
    }
  ]
});
</script>
</body>
</html>
